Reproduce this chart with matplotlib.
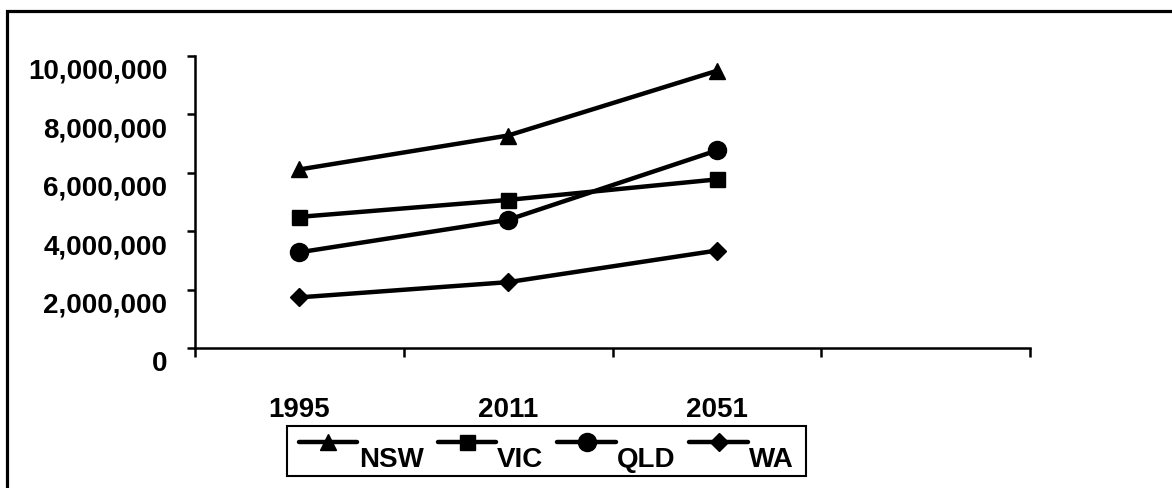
import numpy as np
import matplotlib
matplotlib.use("Agg")
import matplotlib.pyplot as plt
from matplotlib.patches import Rectangle
from matplotlib.legend_handler import HandlerLine2D
from matplotlib.ticker import FuncFormatter, FixedLocator, NullFormatter
import matplotlib.transforms as mtransforms

# Projected population by state
years = ["1995", "2011", "2051"]
nsw = [6_110_000, 7_270_000, 9_480_000]
vic = [4_490_000, 5_070_000, 5_770_000]
qld = [3_280_000, 4_390_000, 6_760_000]
wa = [1_740_000, 2_260_000, 3_340_000]
series_names = ["NSW", "VIC", "QLD", "WA"]
y_ticks = [0, 2_000_000, 4_000_000, 6_000_000, 8_000_000, 10_000_000]

plt.rcParams["font.family"] = ["Liberation Sans", "DejaVu Sans"]
plt.rcParams["font.weight"] = "bold"
FS = 20

W, H = 1172, 489
fig = plt.figure(figsize=(W / 100, H / 100), dpi=100)
fig.patch.set_facecolor("white")

# outer chart frame (left and top edges fall inside the canvas)
fig.patches.append(Rectangle((7 / W, -0.3), 2.0, 1 - 12 / H + 0.3,
                             transform=fig.transFigure, fill=False,
                             edgecolor="black", linewidth=2.3, zorder=0))

ax = fig.add_axes([195 / W, 1 - 349.3 / H, (1030 - 195) / W, (349.3 - 56.6) / H])
ax.set_facecolor("none")

x = np.arange(len(years))
styles = [("^", 11.0), ("s", 10.8), ("o", 13.0), ("D", 8.9)]
for vals, name, (mk, ms) in zip([nsw, vic, qld, wa], series_names, styles):
    ax.plot(x, vals, color="black", lw=3.2, marker=mk, ms=ms,
            mfc="black", mec="black", label=name, solid_capstyle="round")

ax.set_xlim(-0.5, 3.5)
ax.set_ylim(0, 10_000_000)

for s in ("top", "right"):
    ax.spines[s].set_visible(False)
for s in ("left", "bottom"):
    ax.spines[s].set_linewidth(1.8)

# x axis: boundary tick marks, category labels in between
ax.xaxis.set_major_locator(FixedLocator(np.arange(-0.5, 3.6, 1.0)))
ax.xaxis.set_major_formatter(NullFormatter())
ax.xaxis.set_minor_locator(FixedLocator(x))
ax.set_xticklabels(years, minor=True)
ax.tick_params(axis="x", which="major", direction="out", length=6.5, width=1.8)
ax.tick_params(axis="x", which="minor", length=0, pad=34.5, labelsize=FS)

ax.set_yticks(y_ticks)
ax.yaxis.set_major_formatter(FuncFormatter(lambda v, p: f"{int(v):,}"))
ax.tick_params(axis="y", direction="out", length=6, width=1.8, pad=14, labelsize=FS)

for lbl in ax.get_xticklabels(minor=True) + ax.get_yticklabels():
    lbl.set_fontweight("bold")

shift = mtransforms.ScaledTranslation(0, -15 / 100, fig.dpi_scale_trans)
for lbl in ax.get_yticklabels():
    lbl.set_verticalalignment("center")
    lbl.set_transform(lbl.get_transform() + shift)


class RaisedLine(HandlerLine2D):
    """Legend line drawn a little above the text centre."""
    def create_artists(self, legend, orig_handle, xdescent, ydescent,
                       width, height, fontsize, trans):
        arts = super().create_artists(legend, orig_handle, xdescent, ydescent,
                                      width, height, fontsize, trans)
        for a in arts:
            a.set_ydata(np.asarray(a.get_ydata(), dtype=float) + 0.3 * height)
        return arts


handles, labels = ax.get_legend_handles_labels()
leg = fig.legend(handles, labels, loc="center",
                 bbox_to_anchor=(546.5 / W, 1 - 452 / H),
                 bbox_transform=fig.transFigure, ncol=4, frameon=True,
                 fancybox=False, edgecolor="black", framealpha=1,
                 prop={"size": FS, "weight": "bold"},
                 handlelength=2.1, handletextpad=0.05, columnspacing=0.5,
                 borderpad=0.42, borderaxespad=0,
                 handler_map={matplotlib.lines.Line2D: RaisedLine()})
leg.get_frame().set_linewidth(1.5)
for t in leg.get_texts():
    t.set_position((0, -8))

fig.savefig("out.png", dpi=100)
